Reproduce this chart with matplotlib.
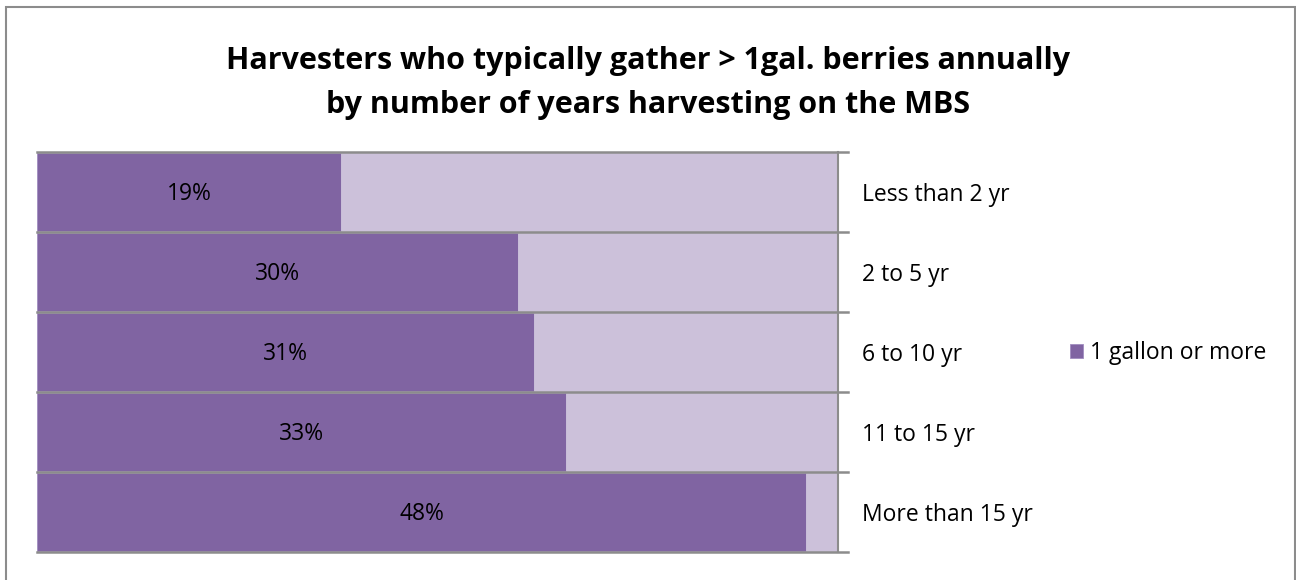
import matplotlib
matplotlib.use("Agg")
import matplotlib.pyplot as plt
from matplotlib.patches import Rectangle

plt.rcParams['font.family'] = ['Open Sans', 'DejaVu Sans']

categories = ["Less than 2 yr", "2 to 5 yr", "6 to 10 yr", "11 to 15 yr", "More than 15 yr"]
values = [19, 30, 31, 33, 48]
series_name = "1 gallon or more"
axis_max = 50

DARK = "#8064A2"
LIGHT = "#CCC1DA"
GRID = "#8C8C8C"
FS = 16.5

fig = plt.figure(figsize=(12.96, 5.80), dpi=100)
ax = fig.add_axes([37 / 1296, 1 - 552 / 580, (838 - 37) / 1296, (552 - 152) / 580])

y = list(range(len(categories)))
remainder = [axis_max - v for v in values]
ax.barh(y, values, height=0.985, color=DARK, edgecolor="#A08CC0", linewidth=0.6,
        label=series_name, zorder=2)
ax.barh(y, remainder, left=values, height=0.985, color=LIGHT, edgecolor=LIGHT,
        linewidth=0.6, zorder=2)

for yi, v in zip(y, values):
    ax.text(v / 2, yi + 0.02, f"{v}%", ha="center", va="center", fontsize=FS,
            color="black", zorder=4)

ax.set_xlim(0, axis_max)
ax.set_ylim(len(categories) - 0.5, -0.5)

# boundary gridlines with outward tick extension on the right
for b in [i - 0.5 for i in range(len(categories) + 1)]:
    ax.axhline(b, xmin=0, xmax=1 + 10 / 801, color=GRID, linewidth=1.8, clip_on=False, zorder=3)

for s in ["top", "bottom", "left"]:
    ax.spines[s].set_visible(False)
ax.spines["right"].set_color(GRID)
ax.spines["right"].set_linewidth(1.5)
ax.spines["right"].set_zorder(3)

ax.set_xticks([])
ax.yaxis.tick_right()
ax.set_yticks(y)
ax.set_yticklabels(categories, fontsize=FS)
ax.tick_params(axis="y", length=0, pad=17)

fig.text(0.5, 1 - 61 / 580, "Harvesters who typically gather > 1gal. berries annually",
         ha="center", va="center", fontsize=22, fontweight="bold")
fig.text(0.5, 1 - 105 / 580, "by number of years harvesting on the MBS",
         ha="center", va="center", fontsize=22, fontweight="bold")

fig.legend(loc="center left", bbox_to_anchor=(1049 / 1296, 1 - 353 / 580), frameon=False,
           fontsize=FS, handlelength=0.6, handleheight=0.6, handletextpad=0.3)

fig.patches.append(Rectangle((6 / 1296, -0.05), (1295 - 6) / 1296, 1.05 - 7 / 580,
                             transform=fig.transFigure, fill=False, edgecolor="#8C8C8C",
                             linewidth=1.5))

fig.savefig("out.png", dpi=100)
